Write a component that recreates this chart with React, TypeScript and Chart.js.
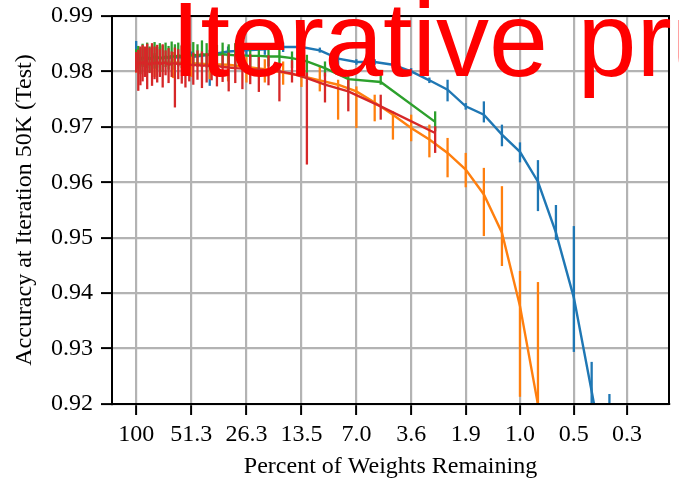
import React, { useEffect, useRef } from 'react';
import { Chart, registerables } from 'chart.js';

Chart.register(...registerables);

// X axis: percent of weights remaining (log scale, reversed)
const xTickValues = [100, 51.28, 26.32, 13.52, 6.952, 3.583, 1.851, 0.96, 0.5, 0.263];
const xTickLabels = ['100', '51.3', '26.3', '13.5', '7.0', '3.6', '1.9', '1.0', '0.5', '0.3'];
const yTickValues = [0.92, 0.93, 0.94, 0.95, 0.96, 0.97, 0.98, 0.99];

// Percent remaining at each pruning iteration (blue / orange series)
const iterPercent = [100, 80.04, 64.06, 51.28, 41.05, 32.87, 26.32, 21.07, 16.88, 13.52, 10.83, 8.676, 6.952, 5.572, 4.468, 3.583, 2.874, 2.306, 1.851, 1.486, 1.194, 0.96, 0.772, 0.621, 0.5, 0.403, 0.325];

const blueAcc = [0.9824, 0.9824, 0.9825, 0.9826, 0.983, 0.9836, 0.9838, 0.984, 0.9844, 0.9844, 0.9838, 0.9823, 0.9817, 0.9817, 0.9812, 0.98, 0.9784, 0.9767, 0.9737, 0.9722, 0.9686, 0.9655, 0.9601, 0.9509, 0.9392, 0.9223, 0.905];
const blueMax = [0.9855, 0.9833, 0.9834, 0.9836, 0.9839, 0.9845, 0.9848, 0.985, 0.9852, 0.9851, 0.9843, 0.983, 0.9822, 0.9822, 0.9817, 0.9806, 0.9789, 0.9785, 0.9743, 0.9746, 0.9704, 0.9672, 0.964, 0.9559, 0.9521, 0.9276, 0.9218];
const blueMin = [0.9815, 0.9812, 0.9814, 0.9815, 0.9774, 0.9826, 0.9828, 0.983, 0.9835, 0.9837, 0.9834, 0.98, 0.9812, 0.9812, 0.9807, 0.9794, 0.9779, 0.9746, 0.9731, 0.9708, 0.9665, 0.9636, 0.9548, 0.9496, 0.9294, 0.915, 0.89];

const orangeAcc = [0.9812, 0.9815, 0.9816, 0.9815, 0.9813, 0.9812, 0.9808, 0.9804, 0.9798, 0.9792, 0.9784, 0.9776, 0.9764, 0.9744, 0.9722, 0.9698, 0.9677, 0.9653, 0.9623, 0.9578, 0.9509, 0.9377, 0.9199];
const orangeMax = [0.9826, 0.9832, 0.9835, 0.983, 0.9829, 0.9832, 0.9826, 0.9822, 0.9818, 0.9812, 0.9809, 0.9785, 0.9773, 0.9758, 0.9728, 0.9722, 0.9704, 0.968, 0.9653, 0.9626, 0.9593, 0.944, 0.942];
const orangeMin = [0.9798, 0.979, 0.9788, 0.979, 0.9786, 0.9782, 0.978, 0.978, 0.9776, 0.9772, 0.9764, 0.9713, 0.9698, 0.971, 0.9677, 0.9674, 0.9645, 0.9609, 0.9591, 0.9503, 0.9449, 0.9213, 0.91];

// Percent remaining for the finer-step series (green / red)
const stepPercent = [100, 97.5, 95.01, 92.51, 90.02, 87.52, 85.03, 82.53, 80.04, 77.54, 75.05, 72.55, 70.06, 67.56, 65.07, 62.57, 60.08, 57.58, 55.08, 52.59, 50.09, 47.6, 45.1, 42.61, 40.11, 37.62, 35.12, 32.63, 30.13, 27.64, 25.14, 22.65, 20.15, 17.66, 15.16, 12.66, 10.17, 7.67, 5.18, 2.68];

const greenAcc = [0.9822, 0.9824, 0.9821, 0.9825, 0.9823, 0.9826, 0.9822, 0.9825, 0.9827, 0.9824, 0.9826, 0.9823, 0.9827, 0.9825, 0.9828, 0.9826, 0.9829, 0.9827, 0.983, 0.9828, 0.983, 0.9829, 0.9831, 0.983, 0.9831, 0.983, 0.9831, 0.983, 0.9829, 0.9829, 0.9828, 0.9828, 0.9827, 0.9827, 0.9824, 0.9818, 0.9806, 0.9786, 0.9781, 0.9709];
const greenMax = [0.984, 0.9846, 0.9843, 0.985, 0.9841, 0.9852, 0.9845, 0.9848, 0.9853, 0.9844, 0.9851, 0.9847, 0.9852, 0.9846, 0.9854, 0.9849, 0.9852, 0.9848, 0.9855, 0.985, 0.9853, 0.9849, 0.9856, 0.9851, 0.9853, 0.9848, 0.9852, 0.9849, 0.9851, 0.9847, 0.985, 0.9846, 0.9848, 0.9845, 0.9836, 0.983, 0.9818, 0.9794, 0.9803, 0.9728];
const greenMin = [0.98, 0.9805, 0.9795, 0.9808, 0.98, 0.9806, 0.9798, 0.9809, 0.9805, 0.9802, 0.9807, 0.9799, 0.9808, 0.9803, 0.981, 0.9804, 0.9809, 0.9806, 0.981, 0.9805, 0.9811, 0.9808, 0.9812, 0.9807, 0.9813, 0.981, 0.9809, 0.9812, 0.9806, 0.981, 0.9808, 0.9805, 0.9809, 0.9806, 0.9806, 0.9791, 0.9791, 0.9767, 0.9776, 0.9692];

const redAcc = [0.9816, 0.9813, 0.9817, 0.9814, 0.9818, 0.9815, 0.9812, 0.9816, 0.9814, 0.9817, 0.9813, 0.9815, 0.9816, 0.9812, 0.9814, 0.9815, 0.9813, 0.9814, 0.9812, 0.9813, 0.9811, 0.9812, 0.981, 0.9811, 0.9809, 0.981, 0.9808, 0.9807, 0.9806, 0.9805, 0.9804, 0.9803, 0.9802, 0.98, 0.9796, 0.9788, 0.9776, 0.9764, 0.9737, 0.9689];
const redMax = [0.9835, 0.9839, 0.9845, 0.9848, 0.9845, 0.985, 0.9843, 0.9851, 0.9845, 0.9848, 0.984, 0.9849, 0.9838, 0.9842, 0.9836, 0.9843, 0.984, 0.9846, 0.9835, 0.9841, 0.9834, 0.9838, 0.9836, 0.9833, 0.9838, 0.9836, 0.983, 0.9834, 0.9832, 0.9828, 0.9831, 0.9826, 0.9829, 0.9815, 0.982, 0.9798, 0.9798, 0.9785, 0.9758, 0.9701];
const redMin = [0.9798, 0.9765, 0.9775, 0.9782, 0.979, 0.9768, 0.9797, 0.9774, 0.9786, 0.978, 0.979, 0.9771, 0.9793, 0.9779, 0.979, 0.9735, 0.9786, 0.9778, 0.9771, 0.9782, 0.9776, 0.9785, 0.977, 0.978, 0.9784, 0.9773, 0.9781, 0.9764, 0.9779, 0.9768, 0.9777, 0.9763, 0.9775, 0.9746, 0.978, 0.9632, 0.9744, 0.9728, 0.9713, 0.9653];

const titleText = 'Iterative pruning';
const xTitle = 'Percent of Weights Remaining';
const yTitle = 'Accuracy at Iteration 50K (Test)';

const BLUE = '#1f77b4';
const ORANGE = '#ff7f0e';
const GREEN = '#2ca02c';
const RED = '#d62728';

const SERIF = '"Liberation Serif", "Times New Roman", serif';

const toPoints = (xs: number[], ys: number[]) => ys.map((y, i) => ({ x: xs[i], y }));

const errorBarPlugin = {
  id: 'errorBars',
  afterDatasetDraw(chart: any, args: any) {
    const ds = chart.data.datasets[args.index];
    if (!ds.errMax) return;
    const { ctx, chartArea, scales } = chart;
    ctx.save();
    ctx.beginPath();
    ctx.rect(chartArea.left, chartArea.top, chartArea.right - chartArea.left, chartArea.bottom - chartArea.top);
    ctx.clip();
    ctx.strokeStyle = ds.borderColor;
    ctx.lineWidth = 2.3;
    ds.data.forEach((pt: any, i: number) => {
      const x = scales.x.getPixelForValue(pt.x);
      const y1 = scales.y.getPixelForValue(ds.errMax[i]);
      const y2 = scales.y.getPixelForValue(ds.errMin[i]);
      ctx.beginPath();
      ctx.moveTo(x, y1);
      ctx.lineTo(x, y2);
      ctx.stroke();
    });
    ctx.restore();
  },
};

const framePlugin = {
  id: 'frame',
  afterDraw(chart: any) {
    const { ctx, chartArea } = chart;
    ctx.save();
    ctx.strokeStyle = '#000';
    ctx.lineWidth = 2;
    ctx.strokeRect(chartArea.left, chartArea.top, chartArea.right - chartArea.left, chartArea.bottom - chartArea.top);
    ctx.font = '106px "Liberation Sans", Arial, sans-serif';
    ctx.fillStyle = '#ff0000';
    ctx.textAlign = 'left';
    ctx.textBaseline = 'alphabetic';
    ctx.fillText(titleText, 171, 76);
    ctx.restore();
  },
};

const zeroPadding = (s: any) => {
  s.paddingLeft = 0;
  s.paddingRight = 0;
  s.paddingTop = 0;
  s.paddingBottom = 0;
};

export default function App() {
  const canvasRef = useRef<HTMLCanvasElement>(null);

  useEffect(() => {
    if (!canvasRef.current) return;
    const mk = (label: string, color: string, xs: number[], ys: number[], mx: number[], mn: number[]) => ({
      label,
      data: toPoints(xs, ys),
      errMax: mx,
      errMin: mn,
      borderColor: color,
      backgroundColor: color,
      borderWidth: 2.4,
      pointRadius: 0,
      tension: 0,
      fill: false,
    });
    const chart = new Chart(canvasRef.current, {
      type: 'line',
      data: {
        datasets: [
          mk('Red', RED, stepPercent, redAcc, redMax, redMin),
          mk('Green', GREEN, stepPercent, greenAcc, greenMax, greenMin),
          mk('Orange', ORANGE, iterPercent, orangeAcc, orangeMax, orangeMin),
          mk('Blue', BLUE, iterPercent, blueAcc, blueMax, blueMin),
        ] as any,
      },
      options: {
        animation: false,
        responsive: false,
        devicePixelRatio: 1,
        layout: { padding: { left: 0, right: 10, top: 16, bottom: 0 } },
        plugins: { legend: { display: false }, tooltip: { enabled: false }, title: { display: false } },
        scales: {
          x: {
            type: 'logarithmic',
            reverse: true,
            min: 0.158,
            max: 134,
            afterBuildTicks: (s: any) => {
              s.ticks = xTickValues.map((v) => ({ value: v }));
            },
            afterFit: (s: any) => {
              s.height = 79;
              zeroPadding(s);
            },
            ticks: {
              autoSkip: false,
              maxRotation: 0,
              minRotation: 0,
              padding: 5,
              color: '#000',
              font: { family: SERIF, size: 24 },
              callback: (_v: any, i: number) => xTickLabels[i],
            },
            grid: { color: '#b3b3b3', lineWidth: 2.2, tickColor: '#000', tickLength: 11, tickWidth: 2 },
            border: { color: '#000', width: 2 },
            title: { display: true, text: xTitle, color: '#000', font: { family: SERIF, size: 24 }, padding: { top: 0, bottom: 2 } },
          },
          y: {
            type: 'linear',
            min: 0.92,
            max: 0.99,
            afterBuildTicks: (s: any) => {
              s.ticks = yTickValues.map((v) => ({ value: v }));
            },
            afterFit: (s: any) => {
              s.width = 112;
              zeroPadding(s);
            },
            ticks: {
              padding: 8,
              color: '#000',
              font: { family: SERIF, size: 24 },
              callback: (v: any) => Number(v).toFixed(2),
            },
            grid: { color: '#b3b3b3', lineWidth: 2.2, tickColor: '#000', tickLength: 11, tickWidth: 2 },
            border: { color: '#000', width: 2 },
            title: { display: true, text: yTitle, color: '#000', font: { family: SERIF, size: 24 }, padding: { top: 10, bottom: 0 } },
          },
        },
      } as any,
      plugins: [errorBarPlugin, framePlugin],
    });
    return () => chart.destroy();
  }, []);

  return (
    <div style={{ position: 'absolute', left: 0, top: 0, width: 679, height: 483, background: '#fff', overflow: 'hidden' }}>
      <canvas ref={canvasRef} width={679} height={483} style={{ display: 'block' }} />
    </div>
  );
}
